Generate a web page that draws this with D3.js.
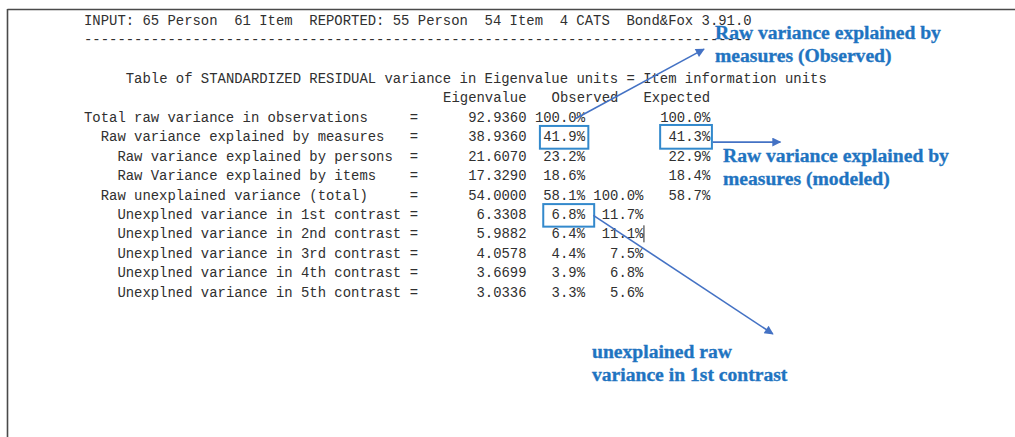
<!DOCTYPE html>
<html>
<head>
<meta charset="utf-8">
<script src="https://cdn.jsdelivr.net/npm/d3@7"></script>
<style>
  html, body { margin: 0; padding: 0; background: #fff; }
  svg { display: block; }
  .mono { font-family: "Liberation Mono", "Courier New", monospace; font-size: 13.92px; fill: #303030; white-space: pre; }
  .note { font-family: "Liberation Serif", "Times New Roman", serif; font-weight: bold; font-size: 19.6px; fill: #1f74c1; stroke: #1f74c1; stroke-width: 0.35px; }
</style>
</head>
<body>
<svg id="chart" width="1015" height="437"></svg>
<script>
// ---------------- DATA ----------------
const headerLine = "INPUT: 65 Person  61 Item  REPORTED: 55 Person  54 Item  4 CATS  Bond&Fox 3.91.0";
const titleLine = "Table of STANDARDIZED RESIDUAL variance in Eigenvalue units = Item information units";
const columnHeaders = ["Eigenvalue", "Observed", "Expected"];
const rowLabels = [
  "Total raw variance in observations",
  "Raw variance explained by measures",
  "Raw variance explained by persons",
  "Raw Variance explained by items",
  "Raw unexplained variance (total)",
  "Unexplned variance in 1st contrast",
  "Unexplned variance in 2nd contrast",
  "Unexplned variance in 3rd contrast",
  "Unexplned variance in 4th contrast",
  "Unexplned variance in 5th contrast"
];
const rowIndent = [0, 2, 4, 4, 2, 4, 4, 4, 4, 4];
const eigenvalues = [92.9360, 38.9360, 21.6070, 17.3290, 54.0000, 6.3308, 5.9882, 4.0578, 3.6699, 3.0336];
const observedPct = [100.0, 41.9, 23.2, 18.6, 58.1, 6.8, 6.4, 4.4, 3.9, 3.3];
const unexplainedPct = [null, null, null, null, 100.0, 11.7, 11.1, 7.5, 6.8, 5.6];
const expectedPct = [100.0, 41.3, 22.9, 18.4, 58.7, null, null, null, null, null];
const noteTexts = [
  ["Raw variance explained by", "measures (Observed)"],
  ["Raw variance explained by", "measures (modeled)"],
  ["unexplained raw", "variance in 1st contrast"]
];

// ---------------- LAYOUT (character grid) ----------------
const svg = d3.select("#chart");
const col = d3.scaleLinear().domain([0, 1]).range([84, 84 + 8.35]);   // column -> x
const line = d3.scaleLinear().domain([0, 1]).range([20, 20 + 19.44]); // line -> y (centre)
const firstDataLine = 5;
const baseOff = 4.6; // centre -> baseline

// frame
svg.append("line").attr("x1", 7.5).attr("y1", 9.5).attr("x2", 1015).attr("y2", 9.5)
  .attr("stroke", "#4a4a4a").attr("stroke-width", 1.6);
svg.append("line").attr("x1", 7.5).attr("y1", 9).attr("x2", 7.5).attr("y2", 437)
  .attr("stroke", "#4a4a4a").attr("stroke-width", 1.6);

const g = svg.append("g");
function mono(text, c, l, anchor) {
  g.append("text").attr("class", "mono")
    .attr("x", col(c)).attr("y", line(l) + baseOff)
    .attr("text-anchor", anchor || "start")
    .attr("xml:space", "preserve")
    .text(text);
}

mono(headerLine, 0, 0);
mono("-".repeat(headerLine.length), 0, 1);
mono(titleLine, 5, 3);
mono(columnHeaders[0], 53, 4, "end");
mono(columnHeaders[1], 56, 4);
mono(columnHeaders[2], 67, 4);

const fmtE = d3.format(".4f");
const fmtP = v => d3.format(".1f")(v) + "%";

rowLabels.forEach((lab, i) => {
  const l = firstDataLine + i;
  mono(lab, rowIndent[i], l);
  mono("=", 39, l);
  mono(fmtE(eigenvalues[i]), 53, l, "end");
  mono(fmtP(observedPct[i]), 60, l, "end");
  if (unexplainedPct[i] !== null) mono(fmtP(unexplainedPct[i]), 67, l, "end");
  if (expectedPct[i] !== null) mono(fmtP(expectedPct[i]), 75, l, "end");
});

// text cursor after 11.1%
svg.append("line").attr("x1", col(67) + 0.5).attr("x2", col(67) + 0.5)
  .attr("y1", line(firstDataLine + 6) - 8.5).attr("y2", line(firstDataLine + 6) + 8.5)
  .attr("stroke", "#222").attr("stroke-width", 1);

// ---------------- ANNOTATIONS ----------------
const boxColor = "#3389cc";
const arrowColor = "#4472c4";
const boxes = [
  { c0: 54.6, c1: 60.4, l0: 5.45, l1: 6.62 },
  { c0: 69.0, c1: 75.2, l0: 5.40, l1: 6.62 },
  { c0: 55.0, c1: 61.1, l0: 9.47, l1: 10.63 }
];
svg.selectAll("rect.box").data(boxes).enter().append("rect").attr("class", "box")
  .attr("x", d => col(d.c0)).attr("y", d => line(d.l0))
  .attr("width", d => col(d.c1) - col(d.c0)).attr("height", d => line(d.l1) - line(d.l0))
  .attr("fill", "none").attr("stroke", boxColor).attr("stroke-width", 2);

svg.append("defs").append("marker")
  .attr("id", "ah").attr("viewBox", "0 0 10 10").attr("refX", 9).attr("refY", 5)
  .attr("markerWidth", 11).attr("markerHeight", 9).attr("markerUnits", "userSpaceOnUse")
  .attr("orient", "auto")
  .append("path").attr("d", "M0,0 L10,5 L0,10 Z").attr("fill", arrowColor);

const arrows = [
  { c0: 58.9, l0: 5.07, c1: 74.25, l1: 1.50 },
  { c0: 75.3, l0: 6.28, c1: 83.4, l1: 6.28 },
  { c0: 61.0, l0: 10.05, c1: 82.5, l1: 16.15 }
];
svg.selectAll("line.arrow").data(arrows).enter().append("line").attr("class", "arrow")
  .attr("x1", d => col(d.c0)).attr("y1", d => line(d.l0))
  .attr("x2", d => col(d.c1)).attr("y2", d => line(d.l1))
  .attr("stroke", arrowColor).attr("stroke-width", 1.6)
  .attr("marker-end", "url(#ah)");

const notePos = [
  { x: 715, y: 39 },
  { x: 723, y: 162 },
  { x: 592, y: 358 }
];
noteTexts.forEach((lines, i) => {
  lines.forEach((t, j) => {
    svg.append("text").attr("class", "note")
      .attr("x", notePos[i].x).attr("y", notePos[i].y + j * 23)
      .text(t);
  });
});
</script>
</body>
</html>
